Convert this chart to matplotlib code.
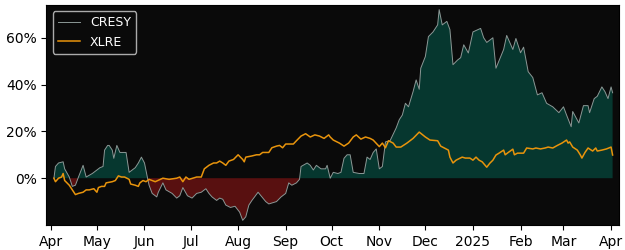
import matplotlib
matplotlib.use("Agg")
import matplotlib.pyplot as plt
import matplotlib.dates as mdates
import matplotlib.ticker as mticker
import numpy as np
import pandas as pd

# cumulative return (%)
cresy_dates = [
    "2024-04-03", "2024-04-04", "2024-04-06", "2024-04-09", "2024-04-10", "2024-04-13",
    "2024-04-15", "2024-04-17", "2024-04-19", "2024-04-22", "2024-04-24", "2024-04-28",
    "2024-05-01", "2024-05-03", "2024-05-05", "2024-05-06", "2024-05-08", "2024-05-09",
    "2024-05-11", "2024-05-12", "2024-05-14", "2024-05-16", "2024-05-18", "2024-05-20",
    "2024-05-22", "2024-05-26", "2024-05-28", "2024-05-30", "2024-06-01", "2024-06-03",
    "2024-06-04", "2024-06-06", "2024-06-09", "2024-06-10", "2024-06-13", "2024-06-15",
    "2024-06-19", "2024-06-22", "2024-06-24", "2024-06-26", "2024-06-29", "2024-07-02",
    "2024-07-05", "2024-07-08", "2024-07-11", "2024-07-13", "2024-07-15", "2024-07-18",
    "2024-07-20", "2024-07-22", "2024-07-24", "2024-07-27", "2024-07-30", "2024-08-02",
    "2024-08-04", "2024-08-06", "2024-08-08", "2024-08-10", "2024-08-14", "2024-08-19",
    "2024-08-21", "2024-08-26", "2024-08-29", "2024-09-01", "2024-09-03", "2024-09-05",
    "2024-09-08", "2024-09-10", "2024-09-11", "2024-09-15", "2024-09-17", "2024-09-19",
    "2024-09-21", "2024-09-24", "2024-09-27", "2024-09-28", "2024-09-30", "2024-10-02",
    "2024-10-05", "2024-10-07", "2024-10-09", "2024-10-11", "2024-10-13", "2024-10-15",
    "2024-10-19", "2024-10-22", "2024-10-24", "2024-10-26", "2024-10-28", "2024-10-30",
    "2024-11-01", "2024-11-03", "2024-11-05", "2024-11-08", "2024-11-12", "2024-11-14",
    "2024-11-16", "2024-11-18", "2024-11-20", "2024-11-23", "2024-11-25", "2024-11-27",
    "2024-11-28", "2024-12-01", "2024-12-03", "2024-12-06", "2024-12-09", "2024-12-10",
    "2024-12-12", "2024-12-15", "2024-12-17", "2024-12-19", "2024-12-22", "2024-12-24",
    "2024-12-26", "2024-12-29", "2025-01-01", "2025-01-06", "2025-01-08", "2025-01-10",
    "2025-01-14", "2025-01-16", "2025-01-21", "2025-01-23", "2025-01-27", "2025-01-29",
    "2025-02-01", "2025-02-03", "2025-02-06", "2025-02-09", "2025-02-12", "2025-02-15",
    "2025-02-18", "2025-02-22", "2025-02-26", "2025-03-01", "2025-03-03", "2025-03-06",
    "2025-03-07", "2025-03-11", "2025-03-14", "2025-03-17", "2025-03-18", "2025-03-21",
    "2025-03-23", "2025-03-26", "2025-03-28", "2025-03-30", "2025-04-01", "2025-04-02",
]
cresy_vals = [
    0, 5, 6.5, 7, 4, 0.5,
    -3.5, -3, 0.5, 5.5, 0.5, 2,
    3.5, 4.5, 5, 12, 14, 14,
    12, 8.5, 14, 11, 11, 11,
    2.5, 4.5, 6.5, 9, 6.5, 0,
    -3, -6.5, -8, -6, -2, -5,
    -6.5, -8.5, -7.5, -4, -7.5, -8.5,
    -6.5, -6, -4.5, -6.5, -8, -9.5,
    -8.5, -9, -11.5, -12.5, -12, -14.5,
    -18, -16.5, -11.5, -9.5, -6, -10,
    -11, -10, -8, -6.5, -2, -3,
    -2, -0.5, 5, 6.5, 5.5, 3.5,
    5.5, 4, 4, 5.5, 0, 2.5,
    2, 2.5, 8.5, 10, 10, 2.5,
    2, 2, 9, 8, 11, 12.5,
    4, 5, 15.5, 16, 21.5, 25,
    27, 32, 30.5, 37, 42, 38,
    47, 52, 60.5, 62.5, 65.5, 72,
    65.5, 67, 63.5, 48.5, 50.5, 51.5,
    57, 53.5, 62.5, 64, 60, 58,
    60, 47, 55, 61, 55, 59.7,
    53.6, 56, 45.5, 43, 35.6, 36.5,
    32, 30.5, 28, 30.5, 27, 22,
    28.5, 23.6, 31, 31, 28, 34,
    35, 39, 37, 34, 39, 36.5,
]

xlre_dates = [
    "2024-04-03", "2024-04-04", "2024-04-06", "2024-04-08", "2024-04-09", "2024-04-10",
    "2024-04-13", "2024-04-15", "2024-04-17", "2024-04-19", "2024-04-22", "2024-04-24",
    "2024-04-26", "2024-04-29", "2024-05-01", "2024-05-02", "2024-05-04", "2024-05-06",
    "2024-05-07", "2024-05-11", "2024-05-13", "2024-05-15", "2024-05-17", "2024-05-19",
    "2024-05-22", "2024-05-23", "2024-05-26", "2024-05-28", "2024-05-29", "2024-05-31",
    "2024-06-02", "2024-06-04", "2024-06-08", "2024-06-13", "2024-06-17", "2024-06-22",
    "2024-06-24", "2024-06-26", "2024-06-28", "2024-06-30", "2024-07-05", "2024-07-08",
    "2024-07-10", "2024-07-13", "2024-07-16", "2024-07-18", "2024-07-20", "2024-07-22",
    "2024-07-24", "2024-07-26", "2024-07-29", "2024-08-01", "2024-08-04", "2024-08-05",
    "2024-08-06", "2024-08-10", "2024-08-13", "2024-08-15", "2024-08-17", "2024-08-21",
    "2024-08-23", "2024-08-26", "2024-08-28", "2024-08-30", "2024-09-01", "2024-09-06",
    "2024-09-08", "2024-09-11", "2024-09-14", "2024-09-17", "2024-09-20", "2024-09-23",
    "2024-09-26", "2024-09-29", "2024-09-30", "2024-10-02", "2024-10-06", "2024-10-09",
    "2024-10-12", "2024-10-15", "2024-10-17", "2024-10-20", "2024-10-23", "2024-10-26",
    "2024-10-28", "2024-11-01", "2024-11-03", "2024-11-05", "2024-11-07", "2024-11-10",
    "2024-11-12", "2024-11-15", "2024-11-19", "2024-11-23", "2024-11-27", "2024-12-01",
    "2024-12-04", "2024-12-09", "2024-12-11", "2024-12-16", "2024-12-17", "2024-12-19",
    "2024-12-21", "2024-12-25", "2024-12-27", "2024-12-30", "2025-01-01", "2025-01-03",
    "2025-01-05", "2025-01-07", "2025-01-10", "2025-01-12", "2025-01-14", "2025-01-16",
    "2025-01-18", "2025-01-21", "2025-01-22", "2025-01-24", "2025-01-27", "2025-01-28",
    "2025-01-30", "2025-02-03", "2025-02-05", "2025-02-09", "2025-02-11", "2025-02-14",
    "2025-02-17", "2025-02-19", "2025-02-22", "2025-02-25", "2025-02-28", "2025-03-03",
    "2025-03-04", "2025-03-05", "2025-03-07", "2025-03-10", "2025-03-12", "2025-03-13",
    "2025-03-15", "2025-03-17", "2025-03-20", "2025-03-22", "2025-03-23", "2025-03-26",
    "2025-03-29", "2025-04-01", "2025-04-02",
]
xlre_vals = [
    0, -1.5, 0, 0.5, 2, -1,
    -3, -5, -7, -6.5, -6, -5,
    -5, -4.5, -6, -4, -3.5, -3.5,
    -2, -1.5, -1, 1, 0.5, 0.5,
    -0.5, -2.5, -3, -3.5, -2, -1,
    -1.5, -0.5, -1.5, 0, -0.5, 0,
    0.5, -1.5, 0.5, -0.5, 0.5, 0.5,
    4, 5.5, 6.5, 6.5, 7.3, 6.5,
    5.5, 7.3, 8, 10, 8, 7,
    9, 9.5, 10, 10, 11, 11,
    13, 13.7, 14, 13, 14.6, 14.6,
    16, 18, 19, 17.6, 18.5, 18,
    17, 18.5, 17.6, 16.3, 15, 13.7,
    15, 17.6, 18.5, 16.7, 17.6, 17,
    16.3, 13.5, 15, 13, 16, 15,
    13.3, 13.3, 15, 17, 19.7, 17.6,
    16.3, 16, 13.7, 12, 9, 6.5,
    7.7, 9, 8.6, 8.6, 7.7, 9,
    7.7, 7, 4.7, 6.4, 7.7, 9.9,
    10.7, 12, 10, 11, 12.4, 10,
    10.7, 10.7, 12.9, 12.5, 12.9, 12.5,
    12.9, 13.3, 12.9, 14, 15, 16.3,
    15, 15.5, 13.3, 12, 9.9, 8.6,
    11, 12.9, 11.6, 12.9, 11.6, 12,
    12.5, 13.3, 9.9,
]

cx = pd.to_datetime(cresy_dates)
cy = np.array(cresy_vals, dtype=float)
xx = pd.to_datetime(xlre_dates)
xy = np.array(xlre_vals, dtype=float)

fig, ax = plt.subplots(figsize=(6.25, 2.5), dpi=100)
fig.subplots_adjust(left=0.074, right=0.99, top=0.98, bottom=0.10)
ax.set_facecolor("#0a0a0a")

ax.fill_between(cx, cy, 0, where=cy >= 0, interpolate=True, color="#06372f", lw=0)
ax.fill_between(cx, cy, 0, where=cy <= 0, interpolate=True, color="#581010", lw=0)
ax.plot(cx, cy, color="#8c9896", lw=0.7, label="CRESY")
ax.plot(xx, xy, color="#e8940c", lw=1.1, label="XLRE")

ax.set_xlim(pd.Timestamp("2024-03-29"), pd.Timestamp("2025-04-06"))
ax.set_ylim(-20, 74)
ax.yaxis.set_major_locator(mticker.FixedLocator([0, 20, 40, 60]))
ax.yaxis.set_major_formatter(mticker.FuncFormatter(lambda v, p: f"{v:.0f}%"))

ax.xaxis.set_major_locator(mdates.MonthLocator())
ax.xaxis.set_major_formatter(mticker.FuncFormatter(
    lambda v, p: mdates.num2date(v).strftime("%Y" if mdates.num2date(v).month == 1 else "%b")))
ax.tick_params(labelsize=10)

leg = ax.legend(loc="upper left", facecolor="#0a0a0a", edgecolor="#aaaaaa",
                framealpha=1.0, fontsize=9, handlelength=1.8)
for t in leg.get_texts():
    t.set_color("white")

fig.savefig("out.png", dpi=100)
